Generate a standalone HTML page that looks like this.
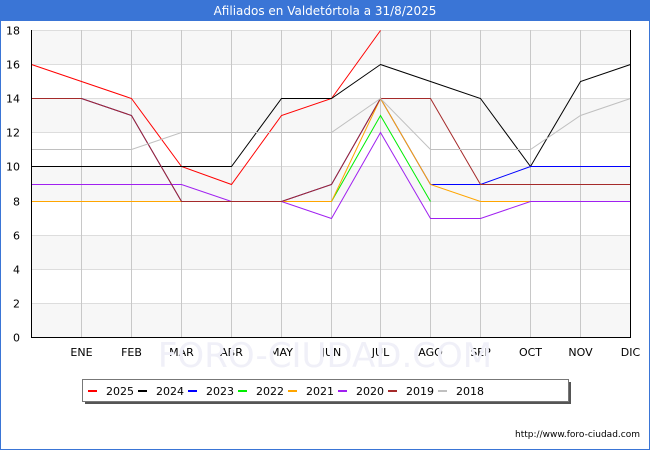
<!DOCTYPE html>
<html><head><meta charset="utf-8"><style>
body{margin:0;width:650px;height:450px;overflow:hidden;background:#fff;font-family:"DejaVu Sans","Liberation Sans",sans-serif}
#wrap{position:absolute;left:0;top:0;width:648px;height:448px;border:1px solid #3a75d6}
</style></head><body>
<div id="wrap"></div>
<svg id="c" width="650" height="450" style="position:absolute;left:0;top:0"></svg>
<script>
const categories=["","ENE","FEB","MAR","ABR","MAY","JUN","JUL","AGO","SEP","OCT","NOV","DIC"];
const yTicks=[0,2,4,6,8,10,12,14,16,18];
const years=["2025","2024","2023","2022","2021","2020","2019","2018"];
const colors=["#ff0000","#000000","#0000ff","#00ee00","#ffa500","#a020f0","#a52a2a","#c0c0c0"];
const s2025=[16,15,14,10,9,13,14,18];
const s2024=[10,10,10,10,10,14,14,16,15,14,10,15,16];
const s2023=[14,14,13,8,8,8,9,14,9,9,10,10,10];
const s2022=[8,8,8,8,8,8,8,13,8];
const s2021=[8,8,8,8,8,8,8,14,9,8,8];
const s2020=[9,9,9,9,8,8,7,12,7,7,8,8,8];
const s2019=[14,14,13,8,8,8,9,14,14,9,9,9,9];
const s2018=[11,11,11,12,12,12,12,14,11,11,11,13,14];
const series=[s2025,s2024,s2023,s2022,s2021,s2020,s2019,s2018];
const NS="http://www.w3.org/2000/svg";
const svg=document.getElementById('c');
const L=31,R=630,T=30,B=337;
const x=i=>Math.round(L+(R-L)*i/(categories.length-1))+0.5;
const y=v=>Math.round(B-(B-T)*v/18)+0.5;
function el(t,a,p){const e=document.createElementNS(NS,t);for(const k in a)e.setAttribute(k,a[k]);(p||svg).appendChild(e);return e;}
let tb=el('rect',{x:0,y:0,width:650,height:21,fill:'#3a75d6'});


let tt=el('text',{x:325,y:15,'text-anchor':'middle','font-size':12,fill:'#fff'});tt.textContent='Afiliados en Valdetórtola a 31/8/2025';


for(let v=16;v>=0;v-=4){const b=el('rect',{x:L,y:y(v+2),width:R-L,height:y(v)-y(v+2),fill:'#f7f7f7'});

}
yTicks.forEach(v=>{el('line',{x1:L,x2:R,y1:y(v),y2:y(v),stroke:'#dddddd','shape-rendering':'crispEdges'});
const t=el('text',{x:20,y:y(v)+4,'text-anchor':'end','font-size':11,fill:'#000'});t.textContent=v;

});
categories.forEach((c,i)=>{if(i>0){el('line',{x1:x(i),x2:x(i),y1:T,y2:B,stroke:'#c8c8c8','shape-rendering':'crispEdges'});
const t=el('text',{x:x(i),y:356,'text-anchor':'middle','font-size':11,fill:'#000'});t.textContent=c;

}});
let wm=el('text',{x:325,y:367,'text-anchor':'middle','font-size':34,fill:'#f0f0f8'});wm.textContent='FORO-CIUDAD.COM';


series.forEach((s,k)=>{const p=el('polyline',{points:s.map((v,i)=>x(i)+','+y(v)).join(' '),fill:'none',stroke:colors[k],'stroke-width':1});

});
let ax=el('path',{d:`M${L+0.5},${T}V${B+0.5}H${R+0.5}V${T}`,fill:'none',stroke:'#000','stroke-width':1});


el('rect',{x:85,y:382,width:486,height:22,fill:'#555'});
let lg=el('rect',{x:82.5,y:379.5,width:486,height:22,fill:'#fff',stroke:'#777'});


years.forEach((yr,k)=>{const g=el('g',{});


el('line',{x1:88+k*50,x2:97+k*50,y1:391,y2:391,stroke:colors[k],'stroke-width':2},g);
const t=el('text',{x:106+k*50,y:395,'font-size':11,fill:'#000'},g);t.textContent=yr;});
let u=el('text',{x:640,y:437,'text-anchor':'end','font-size':9,fill:'#000'});u.textContent='http://www.foro-ciudad.com';


</script>
</body></html>
